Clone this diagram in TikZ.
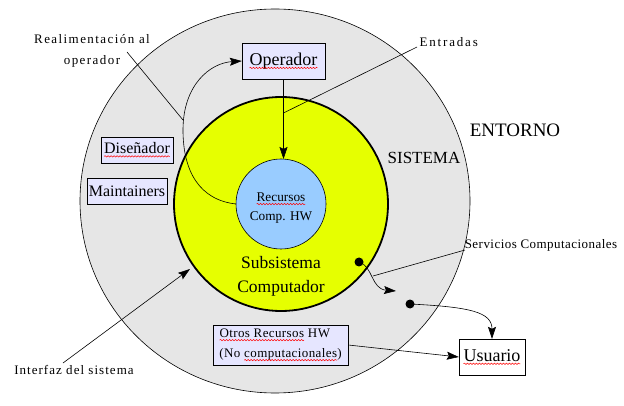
\documentclass[tikz,border=0pt]{standalone}
\usepackage{fontspec}
\setmainfont{Liberation Serif}
\usetikzlibrary{arrows.meta, decorations.pathmorphing}

\definecolor{grisentorno}{HTML}{E6E6E6}
\definecolor{amarillo}{HTML}{E6FF00}
\definecolor{azulhw}{HTML}{99CCFF}
\definecolor{lila}{HTML}{E6E6FF}

% red spell-check underline
\newcommand\faltas[1]{\tikz[baseline=(w.base)]{\node[inner sep=0pt, outer sep=0pt, minimum width=0pt, minimum height=0pt, draw=none, fill=none] (w) {#1};
    \draw[red, line width=0.5pt, decorate, decoration={snake, amplitude=0.7pt, segment length=3pt}]
    ([yshift=-2.6pt]w.base west) -- ([yshift=-2.6pt]w.base east);}}

\tikzset{
  caja/.style={draw, fill=lila, inner sep=1pt},
  flecha/.style={-{Stealth[length=12pt, width=8pt, inset=2pt]}},
  etiq/.style={font={\fontsize{13}{21}\selectfont\addfontfeatures{LetterSpace=#1}}, align=center},
  etiq/.default=8,
  punto/.style={circle, fill, inner sep=0pt, minimum size=9pt},
}

\begin{document}
\begin{tikzpicture}[x=1pt, y=-1pt, line width=0.6pt]
    \useasboundingbox (0,0) rectangle (624,406);

    % Entorno / Sistema
    \fill[grisentorno] (275,201) ellipse [x radius=195, y radius=192];
    \draw (275,201) ellipse [x radius=195, y radius=192];
    \node[font=\fontsize{19}{21}\selectfont] (entorno) at (515,130) {ENTORNO};
    \node[font=\fontsize{17}{19}\selectfont] (sistema) at (424,158) {SISTEMA};

    % Subsistema computador
    \draw[fill=amarillo, line width=1.8pt] (281,204) circle [radius=107];
    \node[font=\fontsize{17.5}{24}\selectfont, align=center] (subsistema) at (281,276) {Subsistema\\Computador};

    % Recursos HW
    \draw[fill=azulhw] (281,204) circle [radius=45];
    \node[font=\fontsize{13.3}{19}\selectfont, align=center] (rectxt) at (281,208) {\faltas{Recursos}\\Comp. HW};
    \coordinate (recursos) at (281,204);
    \coordinate (recW) at (236,204);
    \coordinate (recN) at (283.5,159);

    % Cajas
    \node[caja, minimum width=83pt, minimum height=36pt, font=\fontsize{18}{20}\selectfont] (operador) at (283.5,61) {\faltas{Operador}};
    \node[caja, minimum width=72pt, minimum height=26pt, font=\fontsize{16}{18}\selectfont] (disenador) at (137,150) {\faltas{Diseñador}};
    \node[caja, minimum width=80pt, minimum height=26pt, font=\fontsize{16}{18}\selectfont] (maint) at (127,191) {Maintainers};
    \node[caja, minimum width=135pt, minimum height=40pt, font={\fontsize{13}{20}\selectfont\addfontfeatures{LetterSpace=3}}, align=left] (otros) at (280.5,345) {\faltas{Otros Recursos} HW\\(No \faltas{computacionales})};
    \node[draw, fill=white, minimum width=66pt, minimum height=36pt, inner sep=1pt, font=\fontsize{18}{20}\selectfont] (usuario) at (492,357) {\faltas{Usuario}};

    % Etiquetas
    \node[etiq=11] (realim) at (92,51) {Realimentación al\\operador};
    \node[etiq=14, anchor=west] (entradas) at (416,42) {Entradas};
    \node[etiq=8] (interfaz) at (74,370) {Interfaz del sistema};
    \node[etiq=3.5] (servicios) at (541,245) {Servicios Computacionales};

    % Flechas
    \draw[flecha] (operador.south) -- (recN);
    \draw[flecha] (recW) .. controls (200,200) and (183,172) .. (183,130)
        .. controls (183,85) and (210,63) .. (operador.west);
    \coordinate (entr) at (283.5,113);
    \draw (417,47) -- (entr);
    \coordinate (realimC) at (183,120);
    \draw (127,52) -- (realimC);
    \draw[flecha] (63,363) -- (190,269);

    % Servicios computacionales
    \node[punto] (p1) at (359,262) {};
    \node[punto] (p2) at (410,304) {};
    \draw[flecha] (p1.center) .. controls (373,266) and (371,289) .. (396,291);
    \draw[flecha] (p2.center) .. controls (470,307) and (492,312) .. (usuario.north);
    \coordinate (servC) at (373,276);
    \draw (465,250) -- (servC);
    \draw[flecha] (otros.east) -- (usuario.west);
\end{tikzpicture}
\end{document}
